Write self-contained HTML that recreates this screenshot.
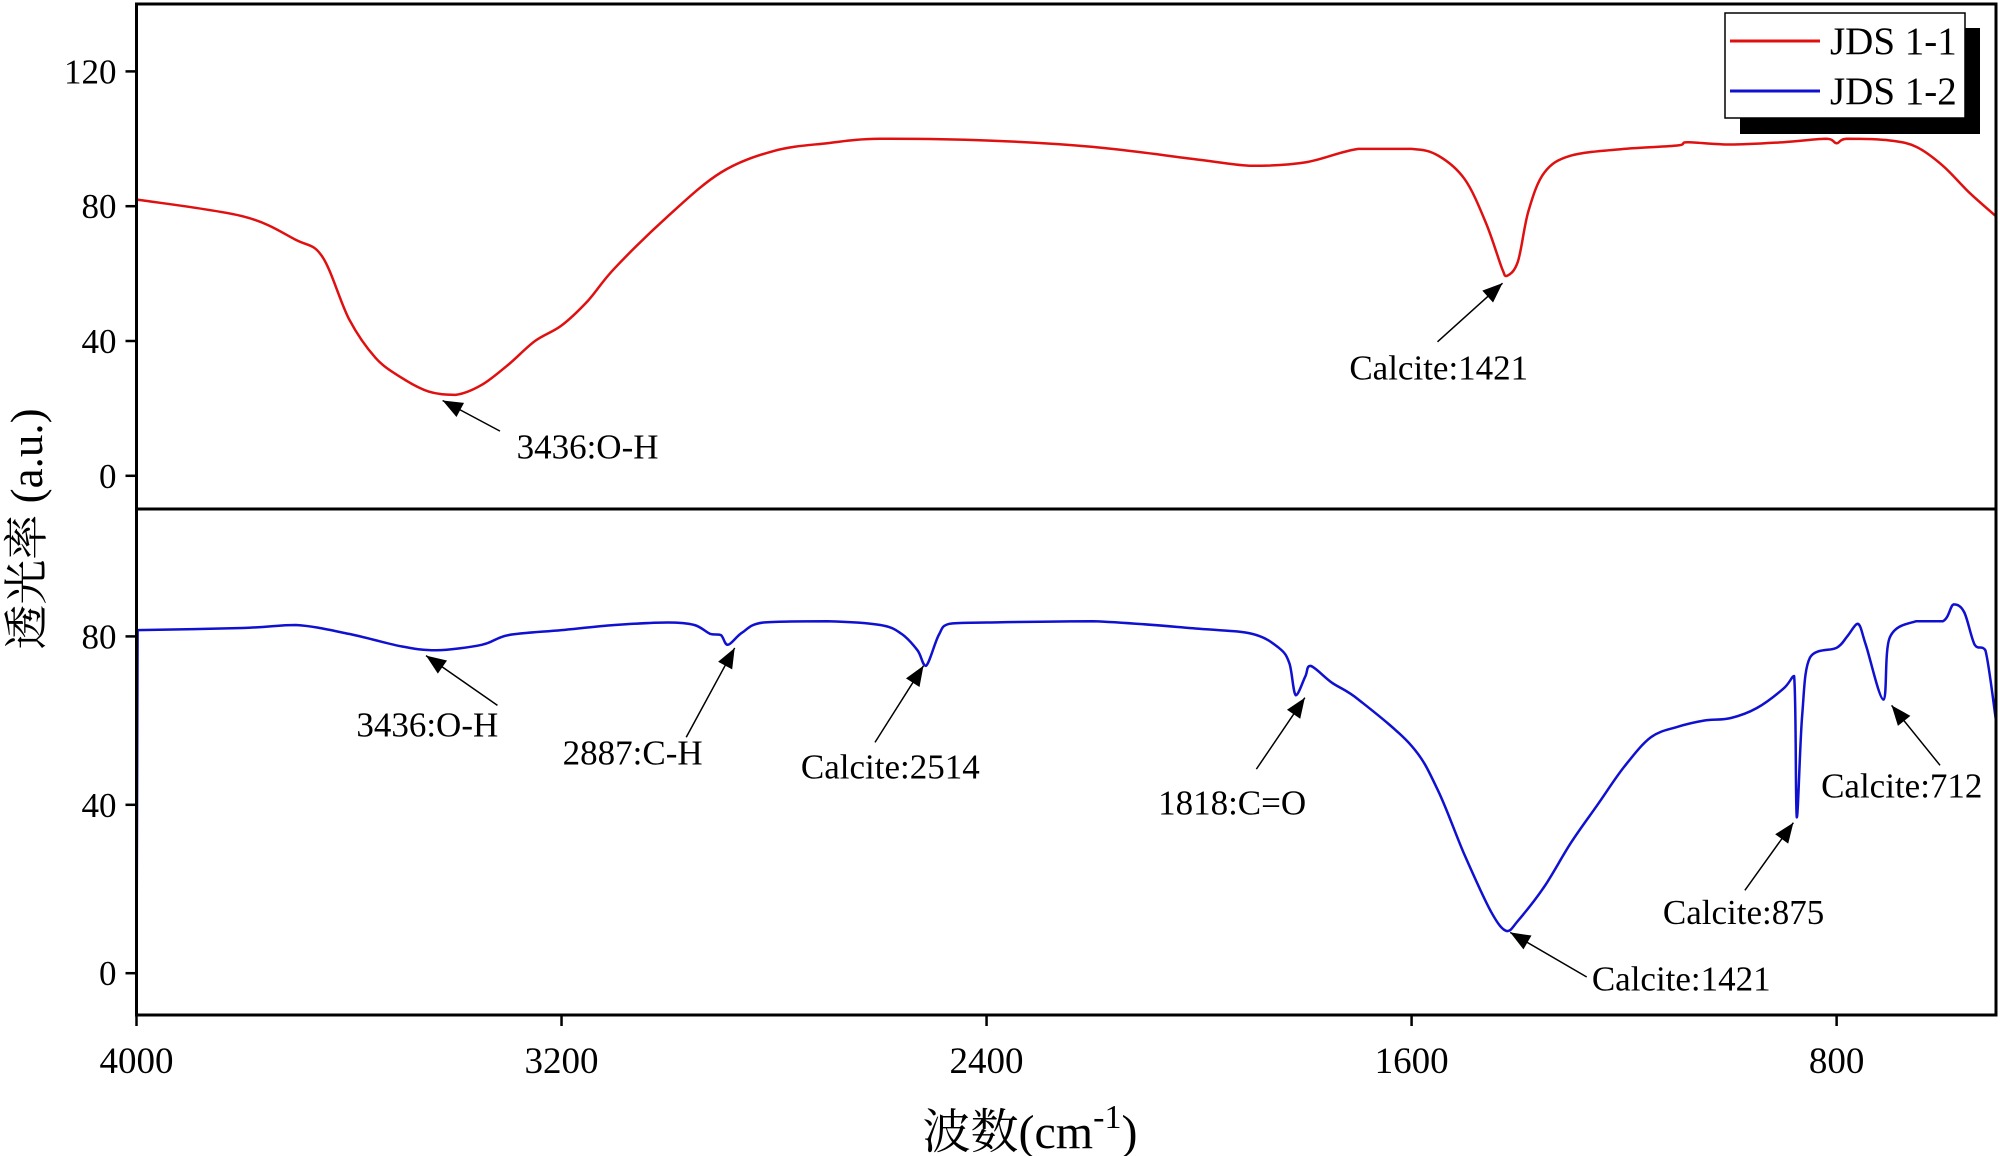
<!DOCTYPE html>
<html><head><meta charset="utf-8"><style>
html,body{margin:0;padding:0;background:#fff;}
svg{display:block;font-family:"Liberation Serif","Noto Serif CJK SC",serif;}
</style></head><body>
<svg id="chart" width="2000" height="1156" viewBox="0 0 2000 1156"></svg>
<script>
// Data
const topWavenumbers=[4000,3800,3700,3650,3600,3550,3500,3450,3400,3350,3300,3250,3200,3150,3100,3000,2900,2800,2700,2600,2400,2200,2000,1900,1800,1700,1600,1550,1500,1460,1430,1421,1400,1380,1350,1300,1200,1100,1080,1000,900,820,800,780,700,650,600,550,500];
const topValues=[82,77,70,65,46.5,35,29,25,24,27,33,40,44.6,52,61.6,77,90,96.4,98.7,100,99.5,97.6,93.8,92,93,97,97,95,88,75,61.6,59.3,63.5,78.6,90,95,97,98,99,98.3,99,100,98.7,100,99.5,97.6,92,84,77];
const botWavenumbers=[3998,3800,3700,3600,3500,3436,3350,3300,3200,3100,3000,2950,2920,2900,2887,2860,2820,2700,2600,2560,2530,2514,2490,2470,2400,2200,2000,1900,1850,1830,1818,1800,1790,1750,1700,1600,1550,1500,1450,1421,1400,1350,1300,1250,1200,1150,1100,1050,1000,950,900,880,875,865,850,800,780,760,745,712,700,650,600,580,560,540,520,500];
const botValues=[81.5,82,82.7,80.6,77.6,76.7,78,80.3,81.5,82.7,83.3,82.7,80.6,80.3,78,80.9,83.3,83.6,82.7,80.6,76.7,73,80.3,83,83.3,83.6,81.8,80.6,77.3,73.6,66,70.5,73,69,65,54,43.3,28,14.5,10,12.4,20.6,31,40,49,56,58.5,60,60.6,63,67.6,70.6,37,61,75,77.3,80,83,78,65,79.7,83.6,83.6,87.6,85.8,78,76.7,60];
const xTicks=[4000,3200,2400,1600,800];
const topYTicks=[0,40,80,120];
const botYTicks=[0,40,80];

const NS="http://www.w3.org/2000/svg";
const svg=document.getElementById('chart');
function el(tag,attrs,parent){const e=document.createElementNS(NS,tag);for(const k in attrs)e.setAttribute(k,attrs[k]);(parent||svg).appendChild(e);return e;}
const L=136.5,R=1996,T=4,M=509,B=1015;
const xs=w=>L+(4000-w)*(R-L)/3500;
const yTop=v=>475.8-v*134.8/40;
const yBot=v=>973.2-v*168.4/40;

const defs=el('defs',{});
const mk=el('marker',{id:'ah',viewBox:'0 0 10 10',refX:'10',refY:'5',markerWidth:'24',markerHeight:'20',orient:'auto',markerUnits:'userSpaceOnUse'},defs);
el('path',{d:'M0,1 L10,5 L0,9 z',fill:'#000'},mk);

function path(ws,vs,yf,color,name,fromZero){
  const p=ws.map((w,i)=>[xs(w),yf(vs[i])]);
  let d=fromZero?('M'+L+','+yf(0).toFixed(1)+'L'):'M';
  d+=p[0][0].toFixed(1)+','+p[0][1].toFixed(1);
  const cl=(v,a,b)=>Math.max(Math.min(a,b),Math.min(Math.max(a,b),v));
  for(let i=0;i<p.length-1;i++){
    const p0=p[Math.max(0,i-1)],p1=p[i],p2=p[i+1],p3=p[Math.min(p.length-1,i+2)];
    const c1=[p1[0]+(p2[0]-p0[0])/6,cl(p1[1]+(p2[1]-p0[1])/6,p1[1],p2[1])];
    const c2=[p2[0]-(p3[0]-p1[0])/6,cl(p2[1]-(p3[1]-p1[1])/6,p1[1],p2[1])];
    d+='C'+c1[0].toFixed(1)+','+c1[1].toFixed(1)+' '+c2[0].toFixed(1)+','+c2[1].toFixed(1)+' '+p2[0].toFixed(1)+','+p2[1].toFixed(1);
  }
  const e=el('path',{d:d,fill:'none',stroke:color,'stroke-width':'2.5','stroke-linejoin':'round'});
  
  
}
path(topWavenumbers,topValues,yTop,'#e01010','series-jds-1-1',false);
path(botWavenumbers,botValues,yBot,'#1010d0','series-jds-1-2',true);

const fr=el('rect',{x:L,y:T,width:R-L,height:B-T,fill:'none',stroke:'#000','stroke-width':'3'});


el('line',{x1:L,x2:R,y1:M,y2:M,stroke:'#000','stroke-width':'3'});

xTicks.forEach(t=>{
  const x=xs(t);
  el('line',{x1:x,x2:x,y1:B,y2:B+11,stroke:'#000','stroke-width':'2.5'});
  const tx=el('text',{x:x,y:B+58,'font-size':'37','text-anchor':'middle'});tx.textContent=t;
  
  
});
topYTicks.forEach(t=>{
  const y=yTop(t);
  el('line',{x1:L-11,x2:L,y1:y,y2:y,stroke:'#000','stroke-width':'2.5'});
  const tx=el('text',{x:L-20,y:y+12,'font-size':'35','text-anchor':'end'});tx.textContent=t;
  
  
});
botYTicks.forEach(t=>{
  const y=yBot(t);
  el('line',{x1:L-11,x2:L,y1:y,y2:y,stroke:'#000','stroke-width':'2.5'});
  const tx=el('text',{x:L-20,y:y+12,'font-size':'35','text-anchor':'end'});tx.textContent=t;
  
  
});

const s=1.2755;
const ann=[
 ['3436:O-H',392,338,347,314,405,350,'start'],
 ['Calcite:1421',1127,268,1178,222,1128,288,'middle'],
 ['3436:O-H',390,553,334,514,335,568,'middle'],
 ['2887:C-H',538,578,576,508,496,590,'middle'],
 ['Calcite:2514',686,582,724,522,698,601,'middle'],
 ['1818:C=O',985,603,1023,547,966,629,'middle'],
 ['Calcite:875',1368,698,1406,645,1367,715,'middle'],
 ['Calcite:1421',1244,766,1184,731,1248,767,'start'],
 ['Calcite:712',1521,600,1483,553,1491,616,'middle']
];
ann.forEach(a=>{
  el('line',{x1:a[1]*s,y1:a[2]*s,x2:a[3]*s,y2:a[4]*s,stroke:'#000','stroke-width':'1.5','marker-end':'url(#ah)'});
  const tx=el('text',{x:a[5]*s,y:a[6]*s+12,'font-size':'35','text-anchor':a[7]});tx.textContent=a[0];
  
  
});

const lg=el('g',{});


el('rect',{x:1740,y:28,width:240,height:106,fill:'#000'},lg);
el('rect',{x:1725,y:13,width:240,height:105,fill:'#fff',stroke:'#000','stroke-width':'1.5'},lg);
el('line',{x1:1730,x2:1820,y1:41,y2:41,stroke:'#e01010','stroke-width':'3'},lg);
el('line',{x1:1730,x2:1820,y1:91,y2:91,stroke:'#1010d0','stroke-width':'3'},lg);
const l1=el('text',{x:1830,y:54,'font-size':'39'},lg);l1.textContent='JDS 1-1';


const l2=el('text',{x:1830,y:104,'font-size':'39'},lg);l2.textContent='JDS 1-2';



const yt=el('text',{x:0,y:0,'font-size':'45','text-anchor':'middle',transform:'translate(42,529) rotate(-90)'});
yt.textContent='透光率 (a.u.)';


const xt=el('text',{x:1030,y:1148,'font-size':'48','text-anchor':'middle'});
xt.innerHTML='波数(cm<tspan dy="-20" font-size="34">-1</tspan><tspan dy="20">)</tspan>';


</script>
</body></html>
